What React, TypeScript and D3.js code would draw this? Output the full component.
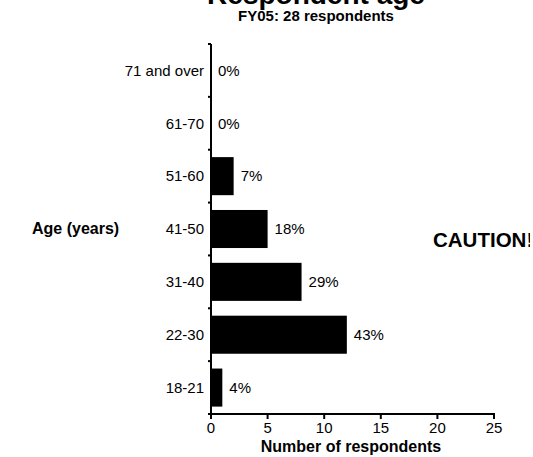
import { useEffect, useRef } from "react";
import * as d3 from "d3";

const categories = ["71 and over", "61-70", "51-60", "41-50", "31-40", "22-30", "18-21"];
const counts = [0, 0, 2, 5, 8, 12, 1];
const percentLabels = ["0%", "0%", "7%", "18%", "29%", "43%", "4%"];
const xTicks = [0, 5, 10, 15, 20, 25];

const W = 533;
const H = 457;

const App = () => {
  const ref = useRef<SVGSVGElement | null>(null);

  useEffect(() => {
    const svg = d3.select(ref.current);
    svg.selectAll("*").remove();

    const font = "'Liberation Sans', Arial, sans-serif";
    const left = 211;
    const right = 494;
    const top = 44;
    const bottom = 414;

    const x = d3.scaleLinear().domain([0, 25]).range([left, right]);
    const y = d3.scaleBand<string>().domain(categories).range([top, bottom]).paddingInner(0.28).paddingOuter(0.14);
    const yEdges = d3.scaleBand<string>().domain(categories).range([top, bottom]);

    // the source page clips the right edge a few px early
    svg.append("defs").append("clipPath").attr("id", "pageClip")
      .append("rect").attr("x", 0).attr("y", 0).attr("width", 530).attr("height", H);

    // title (cut off at the top like the source)
    svg.append("text")
      .attr("x", 316).attr("y", 3.5)
      .attr("text-anchor", "middle")
      .attr("font-family", font).attr("font-weight", "bold").attr("font-size", 28)
      .text("Respondent age");
    svg.append("text")
      .attr("x", 316).attr("y", 21)
      .attr("text-anchor", "middle")
      .attr("font-family", font).attr("font-weight", "bold").attr("font-size", 15)
      .text("FY05: 28 respondents");

    // bars
    svg.append("g").selectAll("rect")
      .data(counts)
      .enter()
      .append("rect")
      .attr("x", x(0))
      .attr("y", (_, i) => y(categories[i]) as number)
      .attr("width", (d) => x(d) - x(0))
      .attr("height", y.bandwidth())
      .attr("fill", "#000");

    // value labels
    svg.append("g").selectAll("text")
      .data(counts)
      .enter()
      .append("text")
      .attr("x", (d) => x(d) + 7)
      .attr("y", (_, i) => (y(categories[i]) as number) + y.bandwidth() / 2)
      .attr("dy", "0.35em")
      .attr("font-family", font).attr("font-size", 15)
      .text((_, i) => percentLabels[i]);

    // category labels
    svg.append("g").selectAll("text")
      .data(categories)
      .enter()
      .append("text")
      .attr("x", 204)
      .attr("y", (d) => (yEdges(d) as number) + yEdges.bandwidth() / 2)
      .attr("dy", "0.35em")
      .attr("text-anchor", "end")
      .attr("font-family", font).attr("font-size", 15)
      .text((d) => d);

    // y axis line + ticks at band edges
    svg.append("line")
      .attr("x1", left).attr("x2", left).attr("y1", top).attr("y2", bottom)
      .attr("stroke", "#000").attr("stroke-width", 2);
    const edges = categories.map((c) => yEdges(c) as number).concat([bottom]);
    svg.append("g").selectAll("line")
      .data(edges)
      .enter()
      .append("line")
      .attr("x1", left - 3).attr("x2", left)
      .attr("y1", (d) => d).attr("y2", (d) => d)
      .attr("stroke", "#000").attr("stroke-width", 2);

    // x axis
    svg.append("line")
      .attr("x1", left - 1).attr("x2", right + 1).attr("y1", bottom).attr("y2", bottom)
      .attr("stroke", "#000").attr("stroke-width", 2);
    const xt = svg.append("g");
    xt.selectAll("line")
      .data(xTicks)
      .enter()
      .append("line")
      .attr("x1", (d) => x(d)).attr("x2", (d) => x(d))
      .attr("y1", bottom).attr("y2", bottom + 5)
      .attr("stroke", "#000").attr("stroke-width", 2);
    xt.selectAll("text")
      .data(xTicks)
      .enter()
      .append("text")
      .attr("x", (d) => x(d))
      .attr("y", 433)
      .attr("text-anchor", "middle")
      .attr("font-family", font).attr("font-size", 15)
      .text((d) => d);

    svg.append("text")
      .attr("x", 351).attr("y", 452)
      .attr("text-anchor", "middle")
      .attr("font-family", font).attr("font-weight", "bold").attr("font-size", 16)
      .text("Number of respondents");

    svg.append("text")
      .attr("x", 32).attr("y", 234)
      .attr("font-family", font).attr("font-weight", "bold").attr("font-size", 16)
      .text("Age (years)");

    svg.append("text")
      .attr("x", 433).attr("y", 247)
      .attr("clip-path", "url(#pageClip)")
      .attr("font-family", font).attr("font-weight", "bold").attr("font-size", 20.5)
      .text("CAUTION!");
  }, []);

  return (
    <svg
      ref={ref}
      width={W}
      height={H}
      style={{ position: "absolute", left: 0, top: 0, background: "#fff" }}
    />
  );
};

export default App;
